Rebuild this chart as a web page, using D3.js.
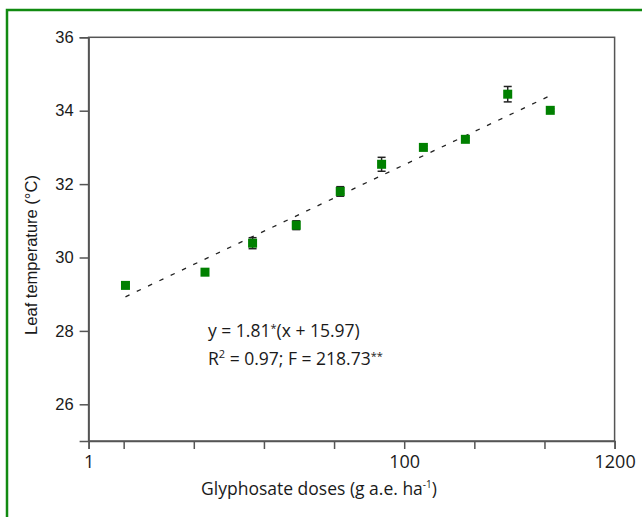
<!DOCTYPE html>
<html>
<head>
<meta charset="utf-8">
<script src="https://cdn.jsdelivr.net/npm/d3@7"></script>
<style>
  body { margin: 0; background: #fff; }
  svg { display: block; }
</style>
</head>
<body>
<svg id="chart" width="642" height="517"></svg>
<script>
// glyphosate doses (g a.e. ha-1)
let doses = [1.03, 3.8, 8.3, 17, 35, 69, 137, 273, 547, 1100];
let leafTemp = [29.24, 29.60, 30.39, 30.88, 31.80, 32.54, 33.00, 33.22, 34.45, 34.01];
let stdErr = [0.04, 0.04, 0.15, 0.12, 0.13, 0.19, 0.04, 0.04, 0.21, 0.04];

// x axis is drawn in log10 units, ticks every half decade
let xTickLogs = [-0.25, 0, 0.5, 1, 1.5, 2, 2.5, 3, 3.5];
let xTickLabels = ["1", "", "", "", "", "100", "", "", "1200"];
let yTicks = [26, 28, 30, 32, 34, 36];

// fitted model y = 1.81*(x + 15.97), x = log10(dose)
let fitA = 1.81, fitB = 15.97;

let svg = d3.select("#chart");

// outer green frame
svg.append("rect")
  .attr("x", 7).attr("y", 10)
  .attr("width", 700).attr("height", 600)
  .attr("fill", "none")
  .attr("stroke", "#118a11")
  .attr("stroke-width", 2.5);

let x = d3.scaleLinear().domain([-0.25, 3.5]).range([88.6, 614.6]);
let y = d3.scaleLinear().domain([25, 36]).range([441, 37.3]);

let axisCol = "#555";
let txtCol = "#1a1a1a";

// plot box
svg.append("rect")
  .attr("x", x(-0.25)).attr("y", y(36))
  .attr("width", x(3.5) - x(-0.25)).attr("height", y(25) - y(36))
  .attr("fill", "none").attr("stroke", axisCol).attr("stroke-width", 1.5);

let yAxis = svg.append("g")
  .attr("transform", `translate(${x(-0.25)},0)`)
  .call(d3.axisLeft(y).tickValues(yTicks).tickSize(9).tickPadding(6));
yAxis.select(".domain").attr("stroke", axisCol).attr("stroke-width", 1.5);
yAxis.selectAll(".tick line").attr("stroke", axisCol).attr("stroke-width", 1.5);
yAxis.selectAll(".tick text")
  .attr("fill", txtCol)
  .style("font-family", "'Liberation Sans', Arial, sans-serif")
  .style("font-size", "16.5px");

let xAxis = svg.append("g")
  .attr("transform", `translate(0,${y(25)})`)
  .call(d3.axisBottom(x).tickValues(xTickLogs).tickSize(8).tickPadding(6)
    .tickFormat((d, i) => xTickLabels[i]));
xAxis.select(".domain").attr("stroke", axisCol).attr("stroke-width", 1.5);
xAxis.selectAll(".tick line").attr("stroke", axisCol).attr("stroke-width", 1.5);
xAxis.selectAll(".tick text")
  .attr("fill", txtCol)
  .style("font-family", "'Open Sans', sans-serif")
  .style("font-size", "18px");

// axis titles
let xt = svg.append("text")
  .attr("x", 319).attr("y", 495)
  .attr("text-anchor", "middle")
  .attr("fill", txtCol)
  .style("font-family", "'Open Sans', sans-serif")
  .style("font-size", "17.5px")
  .text("Glyphosate doses (g a.e. ha");
xt.append("tspan").attr("dy", -7).style("font-size", "10px").text("-1");
xt.append("tspan").attr("dy", 7).text(")");

svg.append("text")
  .attr("transform", "translate(37,255) rotate(-90)")
  .attr("text-anchor", "middle")
  .attr("fill", txtCol)
  .style("font-family", "'Liberation Sans', Arial, sans-serif")
  .style("font-size", "16.5px")
  .text("Leaf temperature (°C)");

// regression line
let lx = d3.extent(doses, d => Math.log10(d));
svg.append("line")
  .attr("x1", x(lx[0])).attr("y1", y(fitA * (lx[0] + fitB)))
  .attr("x2", x(lx[1])).attr("y2", y(fitA * (lx[1] + fitB)))
  .attr("stroke", "#222").attr("stroke-width", 1.3)
  .attr("stroke-dasharray", "4.5,8");

// error bars
let pts = doses.map((d, i) => ({lx: Math.log10(d), t: leafTemp[i], e: stdErr[i]}));
let eb = svg.append("g").attr("stroke", "#222").attr("stroke-width", 1.5);
pts.forEach(p => {
  let cx = x(p.lx);
  eb.append("line").attr("x1", cx).attr("x2", cx).attr("y1", y(p.t + p.e)).attr("y2", y(p.t - p.e));
  eb.append("line").attr("x1", cx - 4).attr("x2", cx + 4).attr("y1", y(p.t + p.e)).attr("y2", y(p.t + p.e));
  eb.append("line").attr("x1", cx - 4).attr("x2", cx + 4).attr("y1", y(p.t - p.e)).attr("y2", y(p.t - p.e));
});

// square markers
svg.append("g").selectAll("rect")
  .data(pts)
  .join("rect")
  .attr("x", d => x(d.lx) - 4.5)
  .attr("y", d => y(d.t) - 4.5)
  .attr("width", 9).attr("height", 9)
  .attr("fill", "#008000");

// equation text
let eq = svg.append("g")
  .attr("fill", txtCol)
  .style("font-family", "'Open Sans', sans-serif")
  .style("font-size", "17.5px");
let l1 = eq.append("text").attr("x", 208).attr("y", 337);
l1.append("tspan").text("y = 1.81");
l1.append("tspan").attr("dy", -5).style("font-size", "11px").text("*");
l1.append("tspan").attr("dy", 5).text("(x + 15.97)");
let l2 = eq.append("text").attr("x", 208).attr("y", 365);
l2.append("tspan").text("R");
l2.append("tspan").attr("dy", -7).style("font-size", "11px").text("2");
l2.append("tspan").attr("dy", 7).text(" = 0.97; F = 218.73");
l2.append("tspan").attr("dy", -5).style("font-size", "11px").text("**");
</script>
</body>
</html>
